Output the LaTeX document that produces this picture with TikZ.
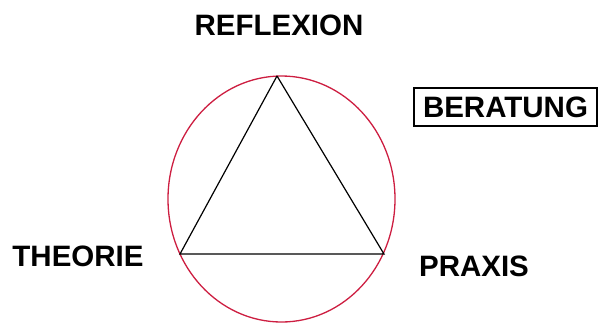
\documentclass[tikz,border=0pt]{standalone}
\usepackage{fontspec}
\setmainfont{Liberation Sans}
\usepackage{xcolor}
\definecolor{ringred}{RGB}{205,30,65}

\tikzset{
  label/.style={font=\bfseries\fontsize{29.5}{31}\selectfont, text=black, inner sep=0pt},
  boxlabel/.style={label, draw=black, line width=1.3pt, inner xsep=7pt, minimum width=183pt, minimum height=38pt},
  edge/.style={black, line width=1.2pt},
  ring/.style={ringred, line width=1.3pt}
}

\begin{document}
\begin{tikzpicture}[x=1pt, y=-1pt]
\useasboundingbox (0,0) rectangle (600,325);

% Ring
\draw[ring] (281.5,199) ellipse [x radius=113.5pt, y radius=123pt];

% Corners
\coordinate (top) at (277,76);
\coordinate (left) at (180,254);
\coordinate (right) at (384,254);

% Triangle
\draw[edge] (top) -- (left) -- (right) -- (top);

% Labels
\node[label] (reflexion) at (279,25) {REFLEXION};
\node[label] (theorie) at (78,256) {THEORIE};
\node[label] (praxis) at (474,266) {PRAXIS};
\node[boxlabel] (beratung) at (505.5,107) {BERATUNG};
\end{tikzpicture}
\end{document}
